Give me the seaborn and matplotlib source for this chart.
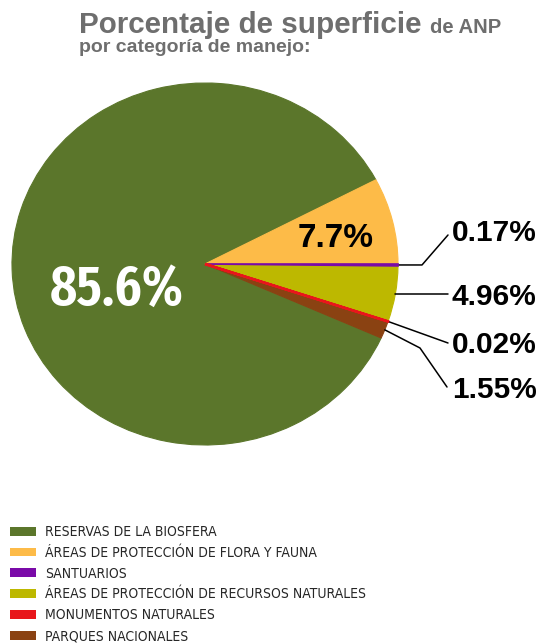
import numpy as np
import seaborn as sns
import matplotlib
matplotlib.use("Agg")
import matplotlib.pyplot as plt
from matplotlib import font_manager
from matplotlib.textpath import TextPath

# datos: porcentaje de superficie de ANP por categoria de manejo
categorias = [
    "RESERVAS DE LA BIOSFERA",
    "ÁREAS DE PROTECCIÓN DE FLORA Y FAUNA",
    "SANTUARIOS",
    "ÁREAS DE PROTECCIÓN DE RECURSOS NATURALES",
    "MONUMENTOS NATURALES",
    "PARQUES NACIONALES",
]
porcentajes = [85.6, 7.7, 0.17, 4.96, 0.02, 1.55]
etiquetas = ["85.6%", "7.7%", "0.17%", "4.96%", "0.02%", "1.55%"]
colores = ["#5b762b", "#fdbb48", "#7a0aa8", "#bdb800", "#e8161b", "#8a4212"]

sns.set_style("white")


def peso(f):
    w = f.weight
    if isinstance(w, str):
        return 700 if "bold" in w.lower() else 400
    return w


def buscar_angosta(negrita):
    # busca una fuente condensada instalada; si no hay, None
    cands = []
    for f in font_manager.fontManager.ttflist:
        txt = (f.name + " " + str(f.stretch) + " " + f.fname).lower()
        if ("condensed" in txt or "narrow" in txt) and "semi" not in txt \
                and "extra" not in txt and "ultra" not in txt \
                and f.style == "normal":
            if (peso(f) >= 600) == negrita:
                cands.append(f)
    if not cands:
        return None
    cands.sort(key=lambda f: (0 if "liberation" in f.name.lower() else 1,
                              abs(peso(f) - (700 if negrita else 400))))
    return font_manager.FontProperties(fname=cands[0].fname)


def fuente_por_proporcion(texto, razon):
    # elige la fuente negrita cuya proporcion ancho/alto se acerca mas a la
    # del texto de referencia
    mejor, dif = None, None
    for f in font_manager.fontManager.ttflist:
        if peso(f) < 600 or f.style != "normal" or "cjk" in f.name.lower():
            continue
        fp = font_manager.FontProperties(fname=f.fname, size=100)
        try:
            ext = TextPath((0, 0), texto, prop=fp).get_extents()
        except Exception:
            continue
        if ext.height <= 0:
            continue
        d = abs(ext.width / ext.height - razon)
        if dif is None or d < dif:
            mejor, dif, alto = fp, d, ext.height
    return mejor, alto


normal = "Liberation Sans" if "Liberation Sans" in \
    {f.name for f in font_manager.fontManager.ttflist} else "DejaVu Sans"
plt.rcParams["font.family"] = [normal, "DejaVu Sans"]

fp_leg = buscar_angosta(False)

W, H = 541, 643
fig = plt.figure(figsize=(W / 100, H / 100), dpi=100)
ax = fig.add_axes([0, 0, 1, 1])

# centro del pastel y radios (en pixeles) -> el pastel es ligeramente eliptico
cx, cy, rx, ry = 205, 264, 193, 181

inicio = 360 * (porcentajes[0] + porcentajes[1]) / 100
wedges, _ = ax.pie(porcentajes, colors=colores, startangle=inicio,
                   counterclock=False,
                   wedgeprops=dict(linewidth=0.8))
for w, c in zip(wedges, colores):
    w.set_edgecolor(c)
wedges[4].set_linewidth(1.8)
wedges[4].set_zorder(5)
wedges[2].set_linewidth(1.2)
wedges[2].set_zorder(5)

ax.set_aspect("auto")
ax.set_xlim(-cx / rx, (W - cx) / rx)
ax.set_ylim((cy - H) / ry, cy / ry)
ax.axis("off")


def px(x, y):
    return (x - cx) / rx, (cy - y) / ry


def borde(w):
    ang = np.deg2rad((w.theta1 + w.theta2) / 2)
    return np.cos(ang), np.sin(ang)


# etiquetas dentro del pastel: 85.6% mide ~131 x 43 px en la referencia
fp_big, alto = fuente_por_proporcion(etiquetas[0], 131 / 43)
fp = fp_big.copy()
fp.set_size(43 * 72 / alto)
ax.text(*px(117, 305), etiquetas[0], color="white", fontproperties=fp,
        ha="center", va="baseline")
ax.text(*px(336, 247), etiquetas[1], color="black", fontsize=24,
        fontweight="bold", ha="center", va="baseline")

# etiquetas externas con lineas guia
lx = px(452, 0)[0]
bases = {2: 241, 3: 305, 4: 353, 5: 398}
for i, base in bases.items():
    ax.text(lx, px(0, base)[1], etiquetas[i], color="black", fontsize=21.5,
            fontweight="bold", ha="left", va="baseline")

lw = 1.1
x0, y0 = borde(wedges[2])
ax.plot([x0, px(422, 0)[0], px(448, 0)[0]], [y0, y0, px(0, 235)[1]],
        color="black", lw=lw)
x0, y0 = borde(wedges[3])
ax.plot([x0, px(448, 0)[0]], [y0, y0], color="black", lw=lw)
x0, y0 = borde(wedges[4])
ax.plot([x0, px(448, 0)[0]], [y0, px(0, 343)[1]], color="black", lw=lw)
x0, y0 = borde(wedges[5])
ax.plot([x0, px(420, 0)[0], px(447, 0)[0]],
        [y0, px(0, 348)[1], px(0, 387)[1]], color="black", lw=lw)

# titulo
gris = "#6e6e6e"
t1 = fig.text(79 / W, 1 - 33 / H, "Porcentaje de superficie", color=gris,
              fontsize=21.3, fontweight="bold", va="baseline")
fig.canvas.draw()
bb = t1.get_window_extent()
fig.text((bb.x1 + 9) / W, 1 - 33 / H, "de ANP", color=gris,
         fontsize=14.6, fontweight="bold", va="baseline")
fig.text(79 / W, 1 - 52 / H, "por categoría de manejo:", color=gris,
         fontsize=14, fontweight="bold", va="baseline")

# leyenda
if fp_leg is not None:
    prop = fp_leg.copy()
    prop.set_size(10)
    espacio = 0.49
else:
    prop = dict(family=normal, size=9.2)
    espacio = 0.4
leg = fig.legend(wedges, categorias, loc="upper left",
                 bbox_to_anchor=(10 / W, 1 - 525 / H), frameon=False,
                 prop=prop, borderpad=0,
                 borderaxespad=0, handlelength=1.9, handleheight=0.6,
                 handletextpad=0.6, labelspacing=espacio)
for h in leg.legend_handles:
    h.set_linewidth(0)

fig.savefig("out.png", dpi=100)
